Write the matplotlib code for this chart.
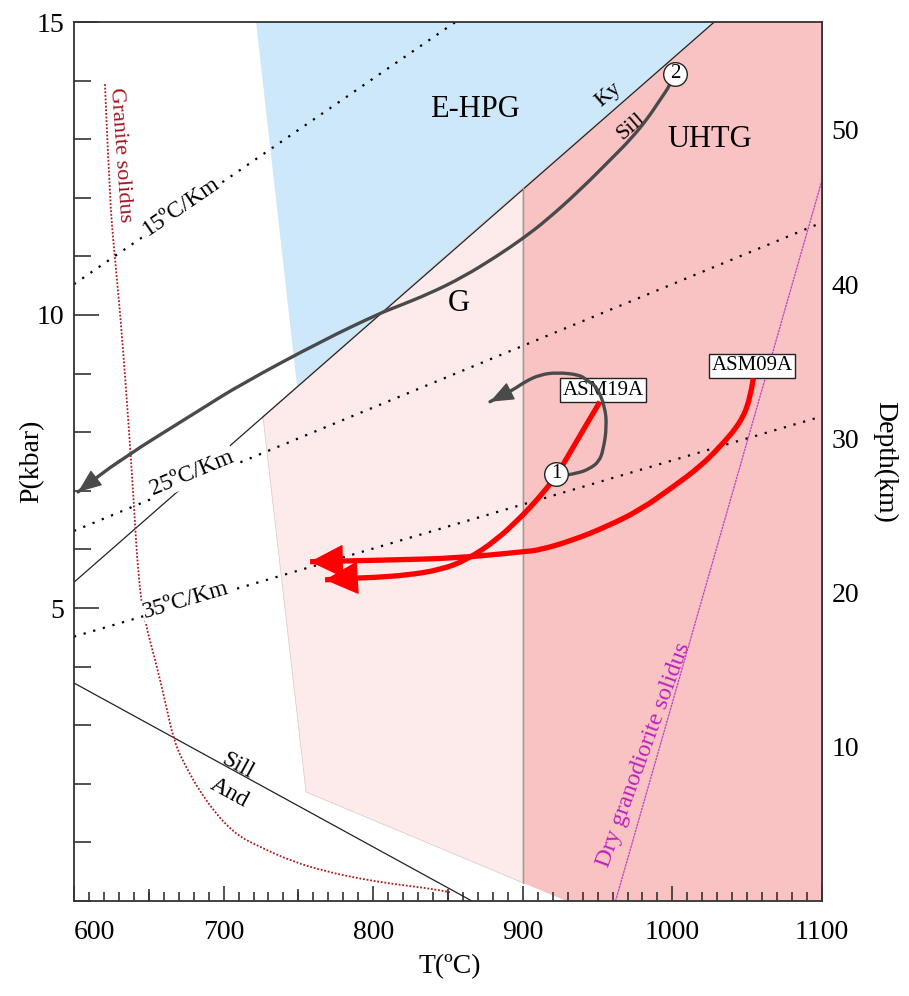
import numpy as np
import matplotlib
matplotlib.use('Agg')
import matplotlib.pyplot as plt
from matplotlib.patches import Polygon, PathPatch
from matplotlib.path import Path
from matplotlib.ticker import MultipleLocator

plt.rcParams['font.family'] = ['Liberation Serif', 'DejaVu Serif']

KM_PER_KBAR = 3.8

# fields (T in ºC, P in kbar)
ehpg_T = [721.7, 1028.0, 749.1]
ehpg_P = [15.0, 15.0, 8.78]
g_T = [726.3, 755.1, 900.1, 900.0]
g_P = [8.27, 1.86, 0.31, 12.17]
uhtg_T = [900.0, 1028.0, 1100.0, 1100.0, 929.0, 900.1]
uhtg_P = [12.17, 15.0, 15.0, 0.0, 0.0, 0.31]

# reaction lines and solidi
ky_sill_T = [600, 1028]
ky_sill_P = [5.44, 15.0]
sill_and_T = [600, 866]
sill_and_P = [3.72, 0.0]
uhtg_limit_T = [900, 900]
uhtg_limit_P = [0.31, 12.17]
dry_grd_T = [962, 1100]
dry_grd_P = [0.0, 12.3]
granite_T = [620.7, 623.8, 627.2, 631.0, 635.5, 639.5, 643.0, 647.0, 655.5, 662.2,
             666.2, 672.0, 687.6, 706.3, 724.3, 746.4, 769.1, 791.2, 813.2, 836.0, 851.3]
granite_P = [13.94, 12.00, 11.00, 10.00, 8.50, 7.00, 5.50, 4.80, 4.00, 3.26,
             2.80, 2.41, 1.72, 1.16, 0.92, 0.67, 0.50, 0.38, 0.29, 0.22, 0.15]
geotherms = [15, 25, 35]  # ºC/km

# P-T paths
g_path_T = [1001.7, 998.4, 991.7, 982.8, 971.7, 960.5, 938.2, 916.0, 900.3, 882.5,
            860.2, 838.0, 815.7, 804.5, 766.6, 711.0, 684.2, 630.7, 602.7]
g_path_P = [14.12, 13.92, 13.67, 13.33, 12.99, 12.70, 12.13, 11.62, 11.31, 11.00,
            10.65, 10.37, 10.14, 10.03, 9.57, 8.81, 8.38, 7.53, 6.98]
loop_T = [929.3, 937.0, 944.9, 951.0, 953.8, 956.1, 954.9, 949.4, 943.0, 938.2,
          922.7, 911.5, 902.0, 893.4, 878.1]
loop_P = [7.27, 7.30, 7.38, 7.50, 7.70, 8.09, 8.44, 8.78, 8.88, 8.98,
          9.02, 8.98, 8.87, 8.72, 8.52]
asm19_T = [951.6, 940.4, 929.3, 920.4, 909.3, 900.3, 882.5, 862.5, 844.7, 822.4,
           800.1, 786.7, 767.8]
asm19_P = [8.52, 8.04, 7.55, 7.18, 6.84, 6.59, 6.16, 5.82, 5.65, 5.56,
           5.52, 5.51, 5.48]
asm09_T = [1054.1, 1051.9, 1045.2, 1031.8, 1018.4, 1000.6, 978.3, 956.1, 933.8, 911.5,
           900.3, 855.8, 811.2, 777.8, 757.8]
asm09_P = [8.92, 8.55, 8.15, 7.75, 7.41, 7.07, 6.67, 6.39, 6.16, 5.99,
           5.96, 5.85, 5.82, 5.80, 5.79]
stage_T = [922.2, 1001.7]
stage_P = [7.29, 14.12]
stage_labels = ['1', '2']


def smooth_path(T, P):
    # quadratic curve through midpoints of the read points
    pts = np.column_stack([T, P])
    verts = [pts[0]]
    codes = [Path.MOVETO]
    for i in range(1, len(pts) - 1):
        verts += [pts[i], (pts[i] + pts[i + 1]) / 2]
        codes += [Path.CURVE3, Path.CURVE3]
    verts.append(pts[-1])
    codes.append(Path.LINETO)
    return Path(verts, codes)


fig = plt.figure(figsize=(9.09, 9.96), dpi=100)
ax = fig.add_axes([74 / 909, 1 - 901 / 996, 748 / 909, 879 / 996])
ax.set_xlim(600, 1100)
ax.set_ylim(0, 15)

ax.add_patch(Polygon(np.column_stack([ehpg_T, ehpg_P]), closed=True,
                     facecolor='#cde8fa', edgecolor='none', zorder=1))
ax.add_patch(Polygon(np.column_stack([g_T, g_P]), closed=True,
                     facecolor='#fdeaea', edgecolor='#d8c8c8', lw=0.5, zorder=1))
ax.add_patch(Polygon(np.column_stack([uhtg_T, uhtg_P]), closed=True,
                     facecolor='#f9c3c3', edgecolor='none', zorder=1))

ax.plot(ky_sill_T, ky_sill_P, color='#222222', lw=0.9, zorder=2)
ax.plot(sill_and_T, sill_and_P, color='#222222', lw=0.9, zorder=2)
ax.plot(uhtg_limit_T, uhtg_limit_P, color='#999999', lw=1.0, zorder=2)
ax.plot(dry_grd_T, dry_grd_P, color='#c040c8', lw=0.9, ls=(0, (2, 0.6)), zorder=2)
ax.add_patch(PathPatch(smooth_path(granite_T, granite_P), fill=False,
                       edgecolor='#b01a1a', lw=1.3, ls=(0, (1, 1)), zorder=2))

tt = np.array([600, 1100])
for g in geotherms:
    ax.plot(tt, tt / g / KM_PER_KBAR, color='black', lw=1.6, ls=(0, (1, 3.5)), zorder=2)

lbl = dict(ha='center', va='center', rotation_mode='anchor', zorder=4)
wbox = dict(boxstyle='square,pad=0.05', fc='white', ec='none')
ax.text(671.5, 11.86, '15ºC/Km', fontsize=17, rotation=34.5, bbox=wbox, **lbl)
ax.text(678.9, 7.30, '25ºC/Km', fontsize=17, rotation=22.4, bbox=wbox, **lbl)
ax.text(674.9, 5.14, '35ºC/Km', fontsize=17, rotation=16.4, bbox=wbox, **lbl)

ax.text(630.7, 12.73, 'Granite solidus', fontsize=16, color='#a0141e', rotation=-86, **lbl)
ax.text(981.0, 2.50, 'Dry granodiorite solidus', fontsize=17.5, color='#c020c0',
        rotation=70, **lbl)
ax.text(709.6, 2.30, 'Sill', fontsize=17, rotation=-28.7, **lbl)
ax.text(704.0, 1.84, 'And', fontsize=17, rotation=-28.7, **lbl)
ax.text(957.5, 13.75, 'Ky', fontsize=16, rotation=41, **lbl)
ax.text(972.5, 13.22, 'Sill', fontsize=16, rotation=41, **lbl)

ax.text(868, 13.5, 'E-HPG', fontsize=22, **lbl)
ax.text(1025, 13.0, 'UHTG', fontsize=22, **lbl)
ax.text(857, 10.2, 'G', fontsize=22, **lbl)

# paths
grey = '#4a4a4a'
for T, P in [(g_path_T, g_path_P), (loop_T, loop_P)]:
    ax.add_patch(PathPatch(smooth_path(T, P), fill=False, edgecolor=grey, lw=2.4,
                           capstyle='round', zorder=5))
    ax.annotate('', xy=(T[-1], P[-1]), xytext=(T[-2], P[-2]),
                arrowprops=dict(arrowstyle='-|>,head_length=0.75,head_width=0.3',
                                color=grey, lw=1, mutation_scale=20,
                                shrinkA=0, shrinkB=0), zorder=5)

for T, P in [(asm19_T, asm19_P), (asm09_T, asm09_P)]:
    ax.add_patch(PathPatch(smooth_path(T, P), fill=False, edgecolor='#ff0000', lw=3.8,
                           zorder=6))
    ax.annotate('', xy=(T[-1], P[-1]), xytext=(T[-2], P[-2]),
                arrowprops=dict(arrowstyle='-|>,head_length=1.1,head_width=0.55',
                                color='#ff0000', lw=1, mutation_scale=20,
                                shrinkA=0, shrinkB=0), zorder=6)

box = dict(boxstyle='square,pad=0.12', fc='white', ec='#222222', lw=1)
ax.text(953.6, 8.72, 'ASM19A', fontsize=15, bbox=box, **lbl)
ax.text(1053.2, 9.13, 'ASM09A', fontsize=15, bbox=box, **lbl)

ax.plot(stage_T, stage_P, 'o', ms=17, mfc='white', mec='#222222', mew=1, zorder=7)
for T, P, s in zip(stage_T, stage_P, stage_labels):
    ax.text(T, P, s, fontsize=15, ha='center', va='center', zorder=8)

# axes
for sp in ax.spines.values():
    sp.set_color('#333333')
    sp.set_linewidth(1.3)
ax.set_xticks(range(600, 1101, 100))
ax.xaxis.set_minor_locator(MultipleLocator(10))
ax.set_yticks([5, 10, 15])
ax.yaxis.set_minor_locator(MultipleLocator(1))
ax.tick_params(axis='both', which='both', direction='in', color='#333333', width=1.2,
               labelsize=20)
ax.tick_params(axis='x', which='major', length=11, pad=14)
ax.tick_params(axis='x', which='minor', length=6.5)
ax.tick_params(axis='y', which='major', length=18, pad=7)
ax.tick_params(axis='y', which='minor', length=12)
ax.get_xticklabels()[0].set_horizontalalignment('left')

sec_x = ax.secondary_xaxis('bottom')
sec_x.set_xticks(range(650, 1100, 100), labels=[])
sec_x.tick_params(direction='in', length=9, width=1.2, color='#333333')
sec_x.spines['bottom'].set_visible(False)

depth = ax.secondary_yaxis('right', functions=(lambda p: p * KM_PER_KBAR,
                                                lambda d: d / KM_PER_KBAR))
depth.set_yticks([10, 20, 30, 40, 50])
depth.tick_params(direction='in', length=14, width=1.2, color='#333333',
                  labelsize=20, pad=7)
depth.spines['right'].set_color('#333333')
depth.spines['right'].set_linewidth(1.3)
fig.text(885 / 909, 1 - 462 / 996, 'Depth(km)', fontsize=20, rotation=270,
         ha='center', va='center')

ax.set_xlabel('T(ºC)', fontsize=20)
ax.xaxis.set_label_coords(0.503, -0.06)
ax.set_ylabel('P(kbar)', fontsize=20)
ax.yaxis.set_label_coords(-0.04, 0.5)

fig.savefig('out.png', dpi=100)
